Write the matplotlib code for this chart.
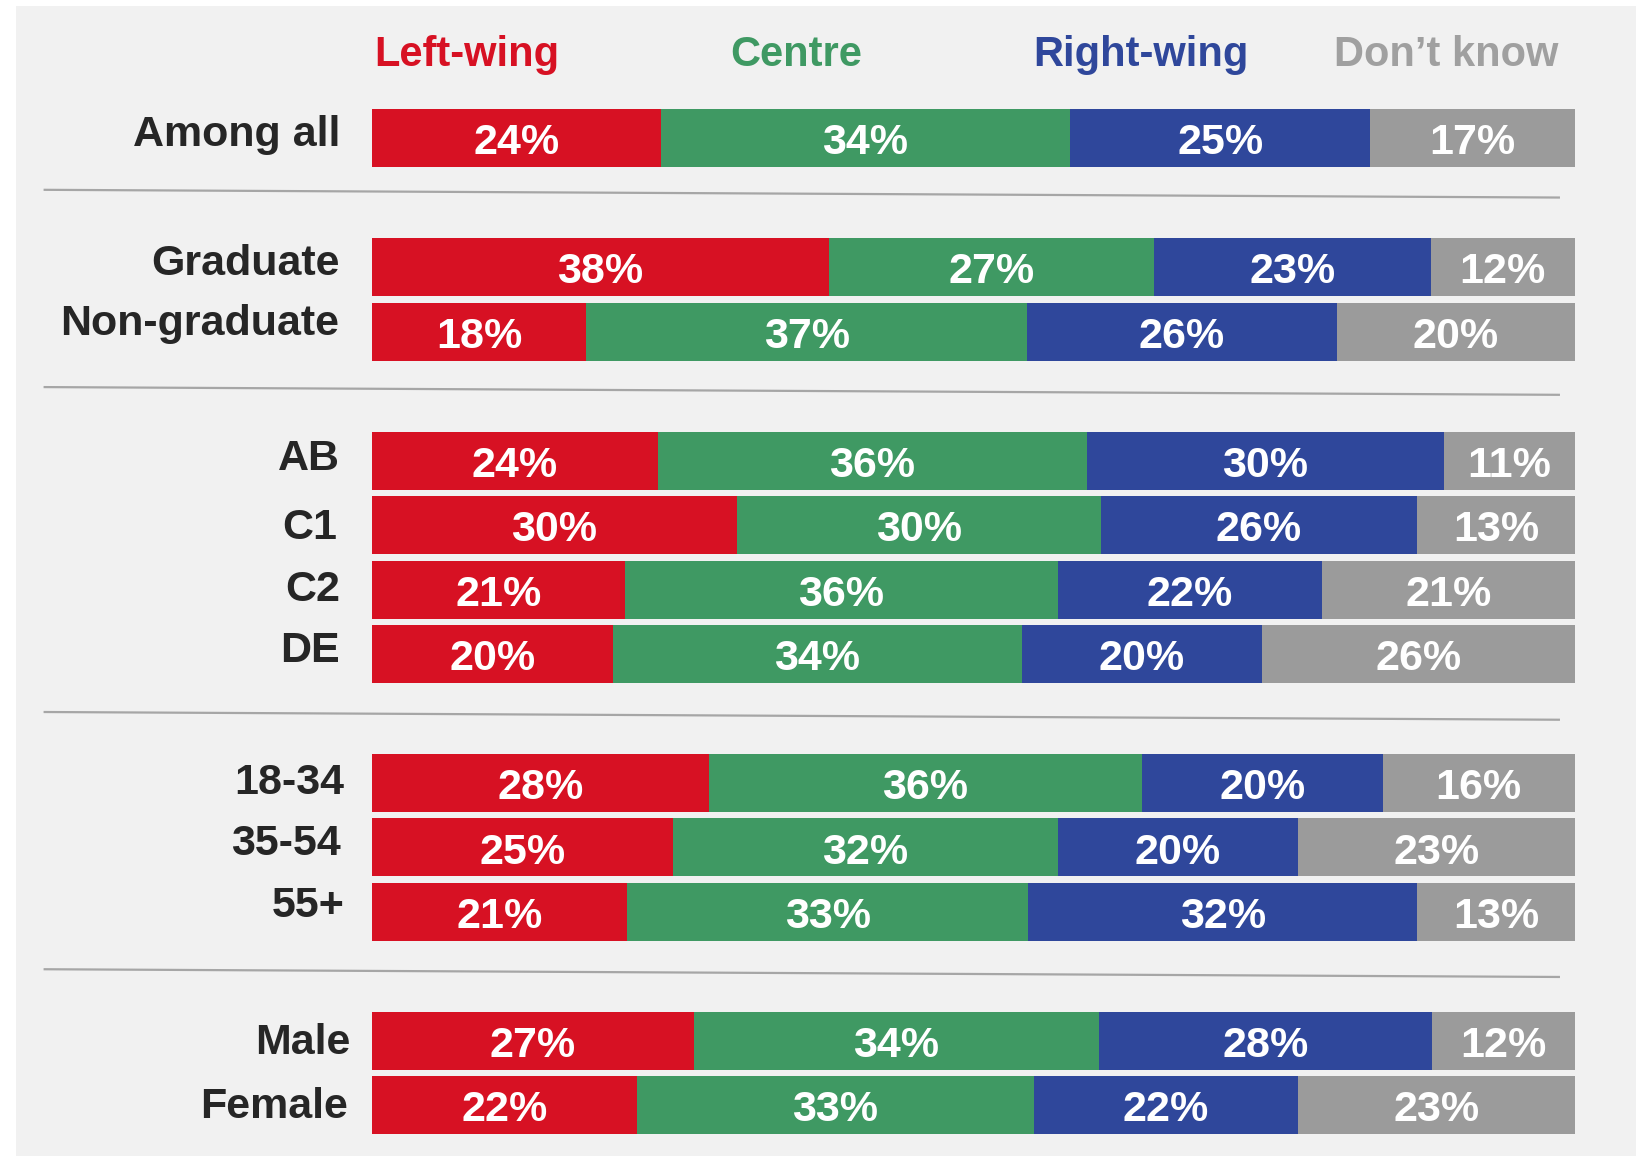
import matplotlib
matplotlib.use("Agg")
import matplotlib.pyplot as plt
from matplotlib.patches import Rectangle
import numpy as np

plt.rcParams['font.family'] = ['Liberation Sans', 'DejaVu Sans']

# ---------------- data ----------------
categories = ["Among all", "Graduate", "Non-graduate", "AB", "C1", "C2", "DE",
              "18-34", "35-54", "55+", "Male", "Female"]
series_names = ["Left-wing", "Centre", "Right-wing", "Don\u2019t know"]
left_wing  = [24, 38, 18, 24, 30, 21, 20, 28, 25, 21, 27, 22]
centre     = [34, 27, 37, 36, 30, 36, 34, 36, 32, 33, 34, 33]
right_wing = [25, 23, 26, 30, 26, 22, 20, 20, 20, 32, 28, 22]
dont_know  = [17, 12, 20, 11, 13, 21, 26, 16, 23, 13, 12, 23]

# ---------------- layout / style ----------------
colors = ["#D71123", "#3F9963", "#2F479B", "#9B9B9B"]
header_colors = ["#D71123", "#3F9963", "#2F479B", "#A0A0A0"]
row_slots = [0, 2, 3, 5, 6, 7, 8, 10, 11, 12, 14, 15]
label_dx = [-2.65, -2.7, -2.7, -2.7, -2.85, -2.6, -2.7, -2.3, -2.6, -2.3, -1.75, -2.0]
label_dy = [-0.05, -0.05, -0.12, -0.03, 0.05, 0.0, -0.05, 0.0, -0.05, -0.09, 0.03, 0.03]
separator_slots = [0.86, 3.92, 8.96, 12.95]
header_x = [7.9, 35.3, 63.9, 89.3]

W, H = 1639, 1156
fig = plt.figure(figsize=(W / 100, H / 100), dpi=100)
fig.patch.set_facecolor("white")
fig.add_artist(Rectangle((16 / W, 0), (1636 - 16) / W, (H - 6) / H,
                         transform=fig.transFigure, facecolor="#F1F1F1",
                         edgecolor="none", zorder=0))

ax = fig.add_axes([372 / W, 1 - 1137.5 / H, (1575 - 372) / W, (1137.5 - 106) / H])
ax.set_facecolor("none")
ax.set_xlim(0, 100)
ax.set_ylim(15.5, -0.5)
ax.axis("off")

data = np.array([left_wing, centre, right_wing, dont_know], dtype=float)
totals = data.sum(axis=0)
norm = data / totals * 100

bar_h = 0.9
lefts = np.zeros(len(categories))
for s in range(4):
    ax.barh(row_slots, norm[s], left=lefts, height=bar_h, color=colors[s],
            edgecolor="none", zorder=2)
    for i in range(len(categories)):
        ax.text(lefts[i] + norm[s][i] / 2, row_slots[i] + 0.08, f"{int(data[s][i])}%",
                ha="center", va="center", color="white", fontsize=31,
                fontweight="bold", zorder=3)
    lefts += norm[s]

# category labels
for i, cat in enumerate(categories):
    ax.text(label_dx[i], row_slots[i] + label_dy[i], cat, ha="right", va="center",
            color="#262626", fontsize=31, fontweight="bold", clip_on=False)

# headers
for j, name in enumerate(series_names):
    ax.text(header_x[j], -1.29, name, ha="center", va="center",
            color=header_colors[j], fontsize=30, fontweight="bold", clip_on=False)

# separators (slightly sloped as in the original)
for y in separator_slots:
    ax.plot([-27.3, 98.75], [y - 0.06, y + 0.06], color="#A6A6A6", lw=1.6,
            clip_on=False, zorder=1, solid_capstyle="butt")

fig.savefig("out.png", dpi=100, facecolor=fig.get_facecolor())
